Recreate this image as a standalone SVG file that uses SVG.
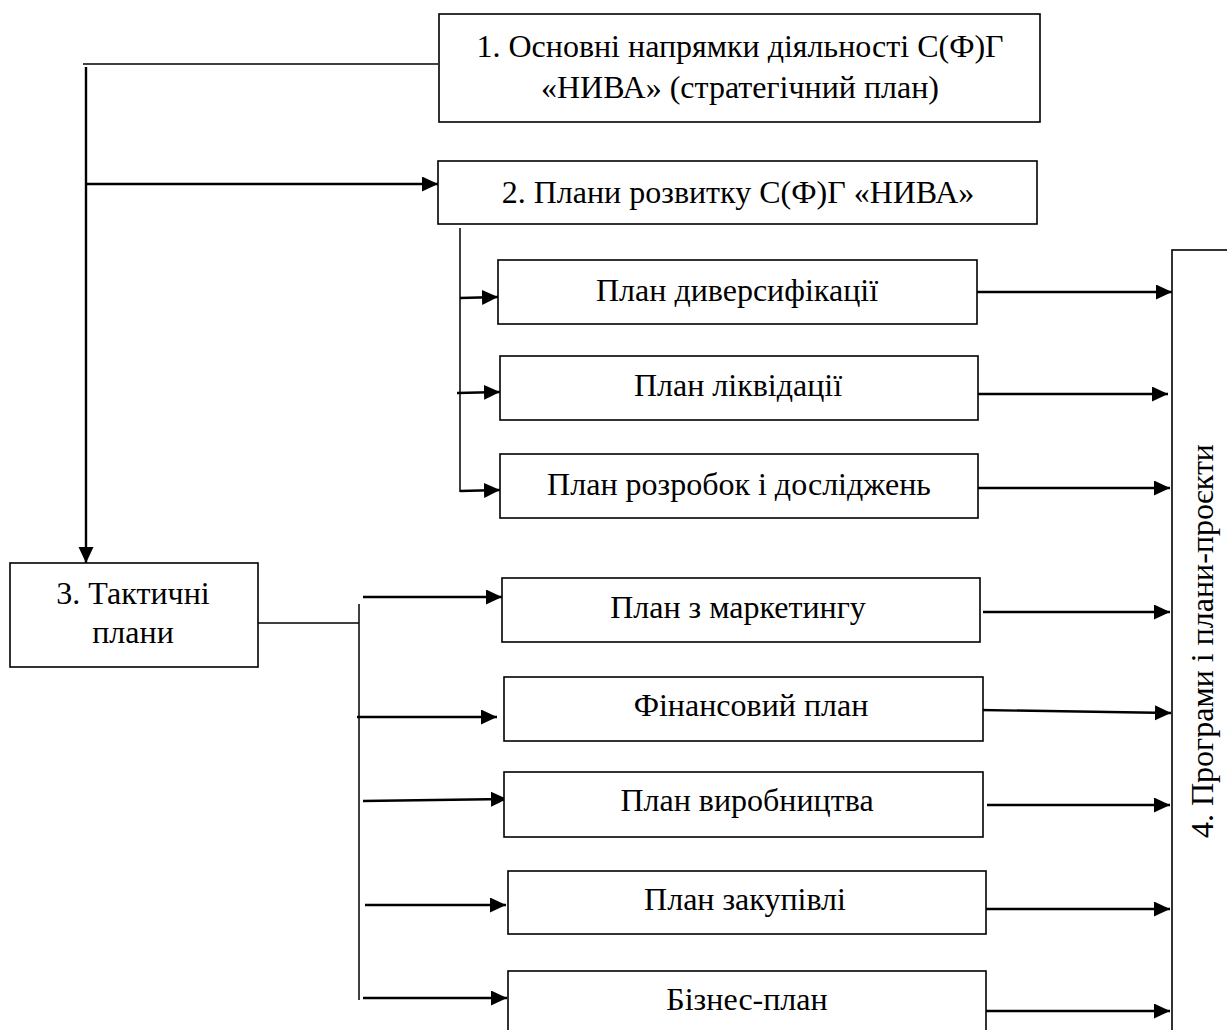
<svg xmlns="http://www.w3.org/2000/svg" width="1227" height="1030" viewBox="0 0 1227 1030">
<style>
.box{fill:#fff;stroke:#000;stroke-width:1.6}
.t{font-family:"Liberation Serif","Times New Roman",serif;font-size:32px;fill:#000;text-anchor:middle}
.c{fill:none;stroke:#000;stroke-width:2.4}
.cl{fill:none;stroke:#000;stroke-width:1.5}
</style>
<defs>
<marker id="ah" markerUnits="userSpaceOnUse" markerWidth="18" markerHeight="16" refX="16" refY="7.5" orient="auto">
<path d="M0,0 L16,7.5 L0,15 z" fill="#000"/>
</marker>
</defs>
<g id="connectors">
<polyline class="cl" points="438,64 83,64"/>
<line class="c" x1="86" y1="67" x2="86" y2="563" marker-end="url(#ah)"/>
<line class="c" x1="86" y1="184" x2="438" y2="184" marker-end="url(#ah)"/>
<line class="cl" x1="460" y1="228" x2="460" y2="492"/>
<line class="c" x1="460" y1="298" x2="498" y2="297" marker-end="url(#ah)"/>
<line class="c" x1="457" y1="393" x2="500" y2="392" marker-end="url(#ah)"/>
<line class="c" x1="460" y1="491" x2="500" y2="490" marker-end="url(#ah)"/>
<line class="cl" x1="258" y1="623" x2="359" y2="623"/>
<line class="cl" x1="359" y1="604" x2="359" y2="1000"/>
<line class="c" x1="363" y1="597" x2="502" y2="597" marker-end="url(#ah)"/>
<line class="c" x1="357" y1="717" x2="497" y2="717" marker-end="url(#ah)"/>
<line class="c" x1="363" y1="801" x2="507" y2="799" marker-end="url(#ah)"/>
<line class="c" x1="365" y1="905" x2="506" y2="905" marker-end="url(#ah)"/>
<line class="c" x1="363" y1="998" x2="507" y2="998" marker-end="url(#ah)"/>
<line class="c" x1="977" y1="292" x2="1172" y2="292" marker-end="url(#ah)"/>
<line class="c" x1="978" y1="394" x2="1168" y2="394" marker-end="url(#ah)"/>
<line class="c" x1="978" y1="488" x2="1170" y2="488" marker-end="url(#ah)"/>
<line class="c" x1="983" y1="612" x2="1170" y2="612" marker-end="url(#ah)"/>
<line class="c" x1="980" y1="710" x2="1171" y2="713" marker-end="url(#ah)"/>
<line class="c" x1="987" y1="805" x2="1170" y2="805" marker-end="url(#ah)"/>
<line class="c" x1="986" y1="909" x2="1170" y2="909" marker-end="url(#ah)"/>
<line class="c" x1="982" y1="1011" x2="1170" y2="1011" marker-end="url(#ah)"/>
</g>
<g id="n1"><rect class="box" x="439" y="14" width="601" height="108"/>
<text class="t" x="740" y="57">1. Основні напрямки діяльності С(Ф)Г</text>
<text class="t" x="740" y="98">«НИВА» (стратегічний план)</text></g>
<g id="n2"><rect class="box" x="438" y="161" width="599" height="63"/>
<text class="t" x="738" y="203">2. Плани розвитку С(Ф)Г «НИВА»</text></g>
<g id="n21"><rect class="box" x="498" y="260" width="479" height="64"/>
<text class="t" x="737" y="301">План диверсифікації</text></g>
<g id="n22"><rect class="box" x="500" y="356" width="478" height="64"/>
<text class="t" x="738" y="396">План ліквідації</text></g>
<g id="n23"><rect class="box" x="500" y="454" width="478" height="64"/>
<text class="t" x="739" y="495">План розробок і досліджень</text></g>
<g id="n3"><rect class="box" x="10" y="563" width="248" height="104"/>
<text class="t" x="133" y="604">3. Тактичні</text>
<text class="t" x="133" y="643">плани</text></g>
<g id="n31"><rect class="box" x="502" y="578" width="478" height="64"/>
<text class="t" x="738" y="618">План з маркетингу</text></g>
<g id="n32"><rect class="box" x="504" y="677" width="479" height="64"/>
<text class="t" x="751" y="716">Фінансовий план</text></g>
<g id="n33"><rect class="box" x="504" y="772" width="479" height="65"/>
<text class="t" x="747" y="811">План виробництва</text></g>
<g id="n34"><rect class="box" x="508" y="871" width="478" height="63"/>
<text class="t" x="745" y="910">План закупівлі</text></g>
<g id="n35"><rect class="box" x="508" y="971" width="478" height="80"/>
<text class="t" x="747" y="1010">Бізнес-план</text></g>
<g id="n4"><rect class="box" x="1172" y="250" width="80" height="800"/>
<text class="t" transform="translate(1213,641) rotate(-90)" x="0" y="0">4. Програми і плани-проєкти</text></g>
</svg>
